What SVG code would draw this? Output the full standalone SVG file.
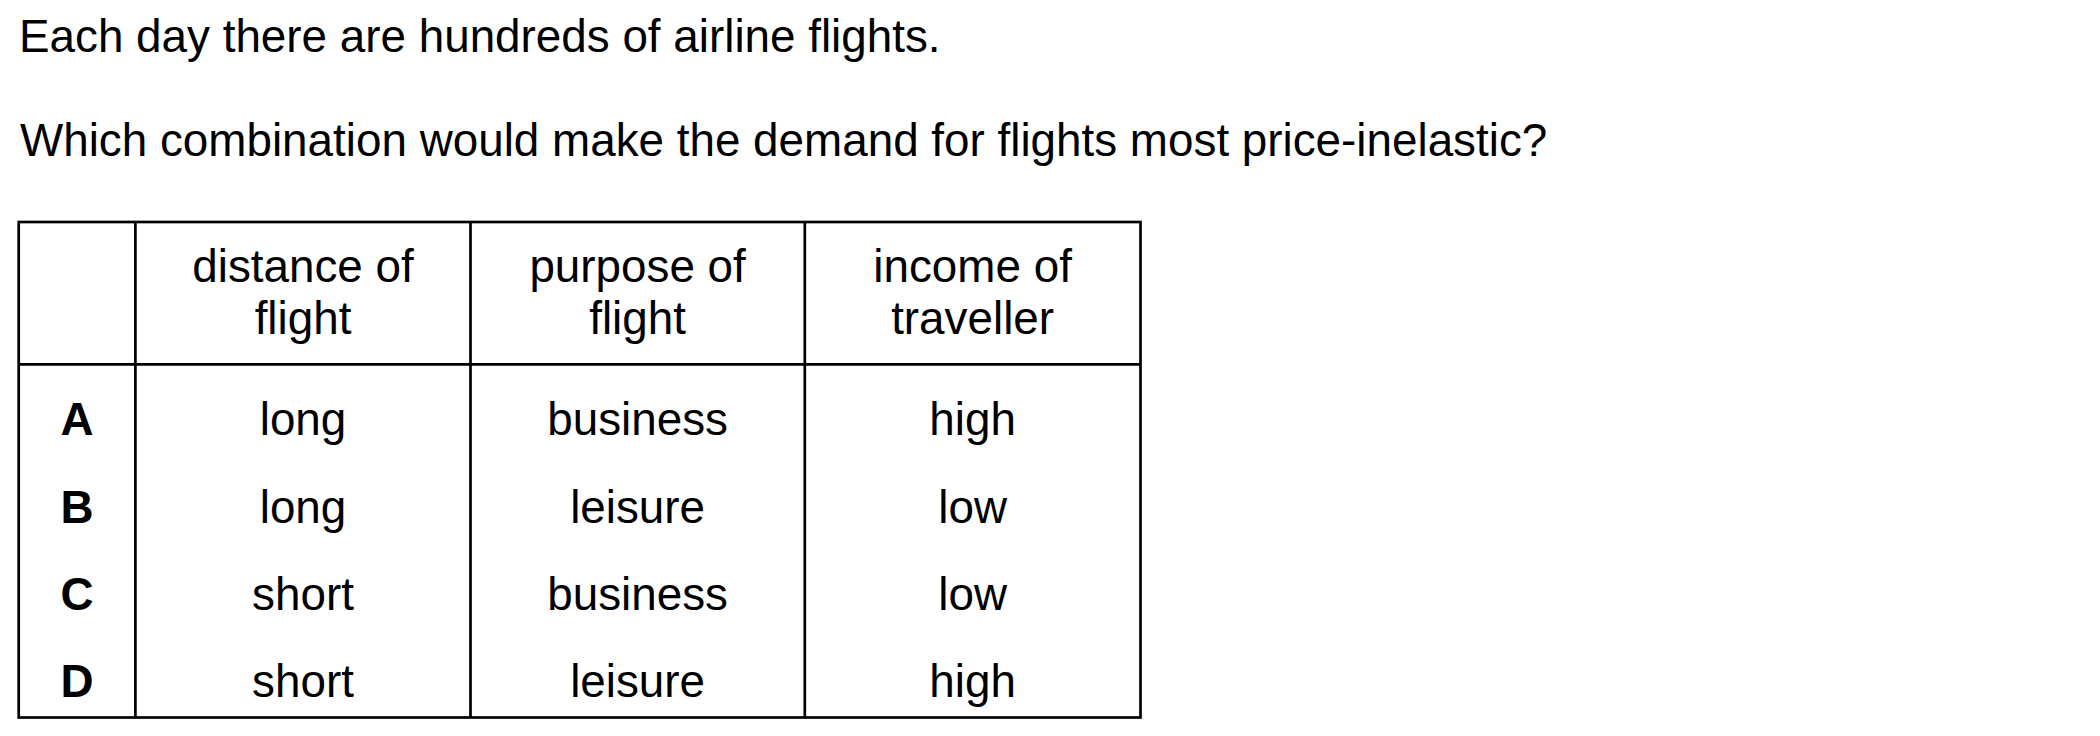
<svg xmlns="http://www.w3.org/2000/svg" width="2100" height="736" viewBox="0 0 2100 736">
<style>
text{font-family:"Liberation Sans",Arial,sans-serif;font-size:45.8px;fill:#000}
.c{text-anchor:middle}
.b{font-weight:bold}
.ln{stroke:#000;stroke-width:2.7;fill:none}
</style>
<rect width="2100" height="736" fill="#fff"/>
<g id="question">
<text x="19" y="51.7">Each day there are hundreds of airline flights.</text>
<text x="20" y="156">Which combination would make the demand for flights most price-inelastic?</text>
</g>
<g id="table-lines">
<rect class="ln" x="18.7" y="222" width="1121.8" height="495.5"/>
<line class="ln" x1="18.7" y1="364.3" x2="1140.5" y2="364.3"/>
<line class="ln" x1="135.4" y1="222" x2="135.4" y2="717.5"/>
<line class="ln" x1="470.5" y1="222" x2="470.5" y2="717.5"/>
<line class="ln" x1="804.8" y1="222" x2="804.8" y2="717.5"/>
</g>
<g id="header">
<text class="c" x="303" y="282.3">distance of</text>
<text class="c" x="303" y="334">flight</text>
<text class="c" x="637.6" y="282.3">purpose of</text>
<text class="c" x="637.6" y="334">flight</text>
<text class="c" x="972.6" y="282.3">income of</text>
<text class="c" x="972.6" y="334">traveller</text>
</g>
<g id="rowA">
<text class="c b" x="77" y="435.2">A</text>
<text class="c" x="303" y="435.2">long</text>
<text class="c" x="637.6" y="435.2">business</text>
<text class="c" x="972.6" y="435.2">high</text>
</g>
<g id="rowB">
<text class="c b" x="77" y="522.7">B</text>
<text class="c" x="303" y="522.7">long</text>
<text class="c" x="637.6" y="522.7">leisure</text>
<text class="c" x="972.6" y="522.7">low</text>
</g>
<g id="rowC">
<text class="c b" x="77" y="610">C</text>
<text class="c" x="303" y="610">short</text>
<text class="c" x="637.6" y="610">business</text>
<text class="c" x="972.6" y="610">low</text>
</g>
<g id="rowD">
<text class="c b" x="77" y="697.3">D</text>
<text class="c" x="303" y="697.3">short</text>
<text class="c" x="637.6" y="697.3">leisure</text>
<text class="c" x="972.6" y="697.3">high</text>
</g>
</svg>
